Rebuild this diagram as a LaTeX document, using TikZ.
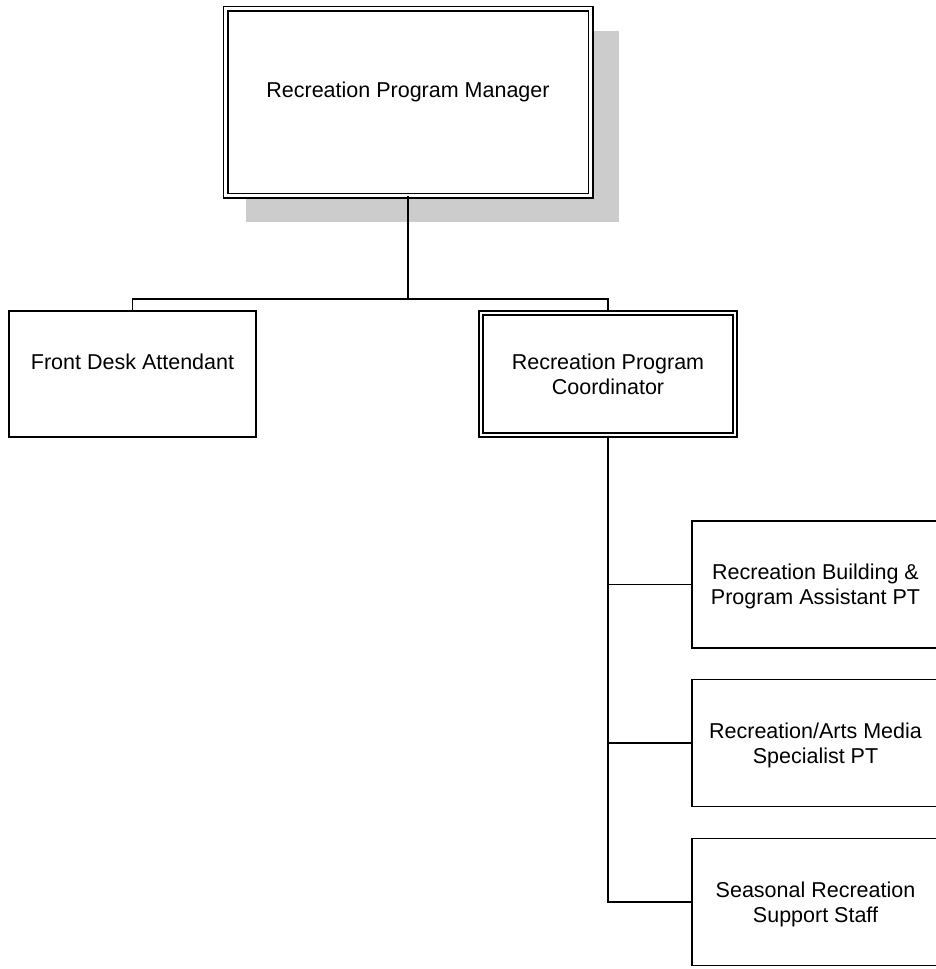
\documentclass[tikz,border=0pt]{standalone}
\usepackage{fontspec}
\setmainfont{Liberation Sans}
\usepackage{tikz}
\usetikzlibrary{shadows}

\tikzset{
	post/.style = {draw, fill = white, line width = 1.7pt, align = center, text depth = 0pt,
		minimum width = 247pt, minimum height = 126pt, inner sep = 0pt,
		font = \fontsize{21.5}{25}\selectfont},
	lead/.style = {post, double, line width = 1.6pt, double distance = 2.8pt},
	link/.style = {line width = 1.3pt}
}

\begin{document}
\begin{tikzpicture}[x = 1pt, y = -1pt]
		\def\W{247};
		\def\H{127};
		\def\xr{815.5};
		
		\useasboundingbox (0, 0) rectangle (936, 969);
		
		\node [lead, minimum width = 365pt, minimum height = 187pt,
			drop shadow = {shadow xshift = 24pt, shadow yshift = -24pt,
				shadow scale = 1.02, fill = black!20, opacity = 1}]
			(mgr) at (408, 102) {Recreation Program Manager\\\mbox{}};
		
		\node [post] (desk) at (132.5, 374) {Front Desk Attendant\\\mbox{}};
		\node [lead, minimum width = 254pt, minimum height = 122pt] (coord) at (608, 374) {Recreation Program\\Coordinator};
		
		\begin{scope}[every node/.style = {post, minimum width = \W pt, minimum height = \H pt}]
			\node (bldg) at (\xr, 584.5) {Recreation Building \&\\Program Assistant PT};
			\node (media) at (\xr, 743) {Recreation/Arts Media\\Specialist PT};
			\node (seas) at (\xr, 902) {Seasonal Recreation\\Support Staff};
		\end{scope}
		
		\coordinate (bus) at (408, 299);
		
		\begin{scope}[link]
			\draw (mgr.south) -- (bus);
			\draw (desk.north) |- (bus) -| (coord.north);
			\draw (coord.south) |- (bldg.west);
			\draw (coord.south) |- (media.west);
			\draw (coord.south) |- (seas.west);
		\end{scope}
	\end{tikzpicture}
\end{document}
